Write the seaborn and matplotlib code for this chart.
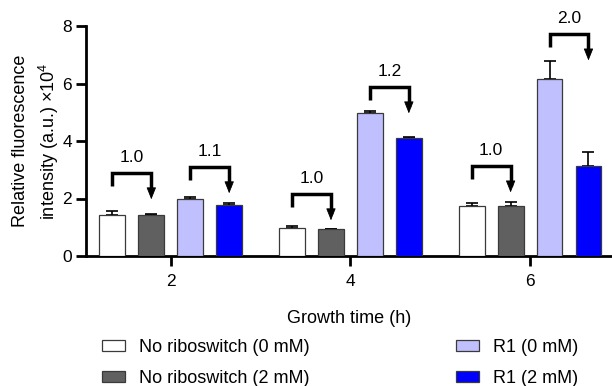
import matplotlib
matplotlib.use("Agg")
import matplotlib.pyplot as plt
from matplotlib.container import BarContainer
import seaborn as sns
import pandas as pd
import numpy as np

# ---- data ----
times = ["2", "4", "6"]
conditions = ["No riboswitch (0 mM)", "No riboswitch (2 mM)", "R1 (0 mM)", "R1 (2 mM)"]
no_rs_0mM = [1.44, 0.98, 1.73]
no_rs_2mM = [1.42, 0.93, 1.74]
r1_0mM = [1.98, 4.96, 6.16]
r1_2mM = [1.76, 4.10, 3.12]
err_no_rs_0mM = [0.14, 0.06, 0.11]
err_no_rs_2mM = [0.05, 0.01, 0.13]
err_r1_0mM = [0.08, 0.09, 0.61]
err_r1_2mM = [0.08, 0.03, 0.49]
colors = ["#ffffff", "#606060", "#c0c0ff", "#0000ff"]
# fold-change brackets: (group index, left hue, right hue), top height, label
bracket_pairs = [(0, 0, 1), (0, 2, 3), (1, 0, 1), (1, 2, 3), (2, 0, 1), (2, 2, 3)]
bracket_tops = [2.89, 3.10, 2.16, 5.88, 3.13, 7.72]
bracket_labels = ["1.0", "1.1", "1.0", "1.2", "1.0", "2.0"]
yticks = [0, 2, 4, 6, 8]

values = [no_rs_0mM, no_rs_2mM, r1_0mM, r1_2mM]
errors = [err_no_rs_0mM, err_no_rs_2mM, err_r1_0mM, err_r1_2mM]
rows = []
for c, vals in zip(conditions, values):
    for t, v in zip(times, vals):
        rows.append({"time": t, "condition": c, "value": v})
df = pd.DataFrame(rows)

sns.set_theme(style="ticks")
plt.rcParams["font.family"] = ["Liberation Sans", "DejaVu Sans"]
plt.rcParams["mathtext.fontset"] = "custom"
plt.rcParams["mathtext.rm"] = "Liberation Sans"
for k in ["text.color", "axes.labelcolor", "xtick.color", "ytick.color",
          "axes.edgecolor", "xtick.labelcolor", "ytick.labelcolor"]:
    plt.rcParams[k] = "black"

FS = 13
fig = plt.figure(figsize=(6.12, 3.86), dpi=100)
ax = fig.add_axes([86 / 612, 1 - 256 / 386, 1 - 86 / 612, (256 - 26) / 386])

sns.barplot(data=df, x="time", y="value", hue="condition", hue_order=conditions,
            order=times, palette=colors, saturation=1, width=0.867, gap=0.335,
            edgecolor="#3a3a3a", linewidth=0.9, errorbar=None, ax=ax, zorder=3)

bars = [c for c in ax.containers if isinstance(c, BarContainer)]

# error bars (upper only)
for j, cont in enumerate(bars):
    xs = [b.get_x() + b.get_width() / 2 for b in cont]
    hs = [b.get_height() for b in cont]
    ax.errorbar(xs, hs, yerr=[np.zeros(len(hs)), errors[j]], fmt="none",
                ecolor="black", elinewidth=1.2, capsize=4.3, capthick=1.2, zorder=2)

# brackets
for (g, a, b), top, lab in zip(bracket_pairs, bracket_tops, bracket_labels):
    ba = bars[a][g]
    bb = bars[b][g]
    xl = ba.get_x() + ba.get_width() / 2
    xr = bb.get_x() + bb.get_width() / 2
    ax.plot([xl, xl, xr, xr], [top - 0.45, top, top, top - 0.7], color="black",
            lw=2.5, solid_joinstyle="miter", solid_capstyle="butt", clip_on=False, zorder=4)
    ax.annotate("", xy=(xr, top - 0.92), xytext=(xr, top - 0.6),
                arrowprops=dict(arrowstyle="-|>,head_length=7.5,head_width=3.0",
                                mutation_scale=1, lw=0.6, color="black",
                                shrinkA=0, shrinkB=0),
                annotation_clip=False, zorder=4)
    ax.text((xl + xr) / 2, top + 0.55, lab, ha="center", va="center",
            fontsize=FS - 0.5, clip_on=False)

ax.set_ylim(0, 8)
ax.set_yticks(yticks)
ax.set_xlim(-0.472, 2.456)
sns.despine(ax=ax)
for s in ["left", "bottom"]:
    ax.spines[s].set_linewidth(2.0)
    ax.spines[s].set_color("black")
ax.tick_params(axis="both", width=2.0, length=7, labelsize=FS - 0.5, pad=3, color="black",
               labelcolor="black")
ax.tick_params(axis="x", pad=6)
ax.set_xlabel("Growth time (h)", fontsize=FS, labelpad=15, color="black")
ax.set_ylabel("Relative fluorescence\nintensity (a.u.) ×10$^{\\mathregular{4}}$",
              fontsize=FS, labelpad=1, linespacing=1.45, color="black")

handles, labels = ax.get_legend_handles_labels()
if ax.get_legend() is not None:
    ax.get_legend().remove()
fig.legend(handles, labels, ncol=2, loc="upper left", bbox_to_anchor=(102 / 612, 1 - 339 / 386),
           frameon=False, fontsize=FS, handlelength=1.28, handleheight=0.55,
           handletextpad=0.78, columnspacing=8.1, labelspacing=0.78,
           borderpad=0, borderaxespad=0, labelcolor="black")

fig.savefig("out.png", dpi=100)
